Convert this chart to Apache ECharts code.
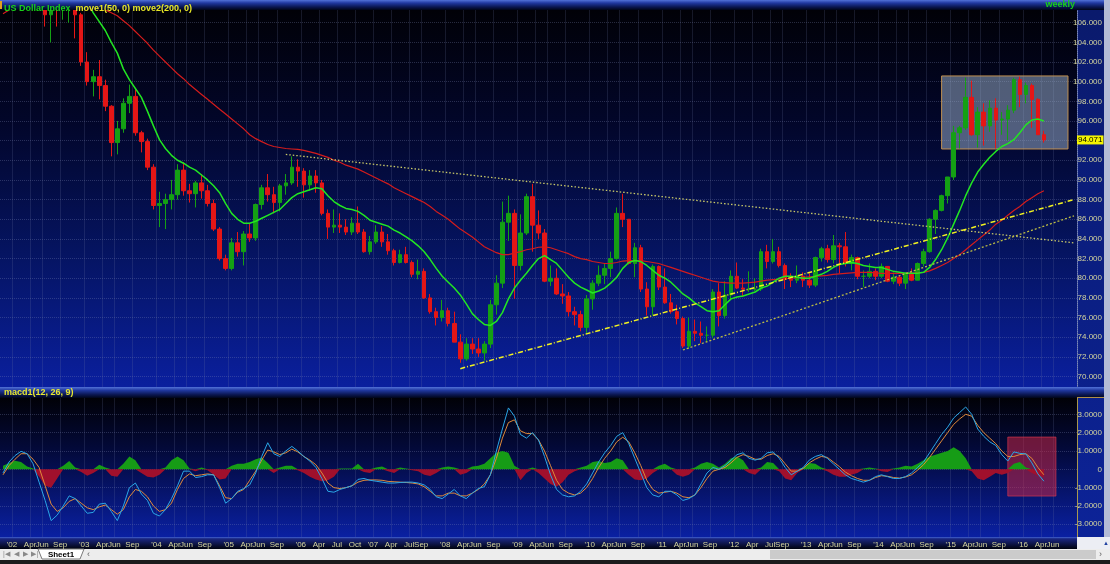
<!DOCTYPE html>
<html><head><meta charset="utf-8">
<script src="https://cdn.jsdelivr.net/npm/echarts@6/dist/echarts.min.js"></script>
<style>html,body{margin:0;padding:0;background:#000;overflow:hidden}#c{width:1110px;height:564px}</style>
</head><body><div id="c"></div>
<script>
// ---------- DATA ----------
const firstMonth = [2001, 11];
const monthCount = 179;
const months = [];
for (let k = 0; k < monthCount; k++) {
  const y = firstMonth[0] + Math.floor((firstMonth[1] - 1 + k) / 12);
  const m = (firstMonth[1] - 1 + k) % 12 + 1;
  months.push(y + '-' + String(m).padStart(2, '0'));
}
// monthly candles [open, close, low, high] from 2001-11
const candles = [
[115.5,116.3,114.3,117.2],[116.3,116.8,115.2,117.7],
[116.8,119.9,116.4,120.6],[119.9,119.5,118.6,120.9],[119.5,119.6,117.8,120.3],[119.6,116.5,115.9,119.9],[116.5,112.7,112.0,116.8],[112.7,106.8,105.6,113.1],[106.8,107.9,104.0,109.0],[107.9,107.8,105.6,109.3],[107.8,108.0,106.3,109.0],[108.0,108.3,106.0,109.5],[108.3,106.8,104.4,108.5],[106.8,102.0,101.6,107.0],
[102.0,100.0,99.6,103.0],[100.0,100.5,98.5,101.2],[100.5,99.6,98.2,102.2],[99.6,97.5,97.0,100.2],[97.5,93.8,92.4,97.6],[93.8,95.2,92.6,96.0],[95.2,97.8,94.8,98.3],[97.8,98.5,96.8,99.7],[98.5,94.8,94.5,99.2],[94.8,93.9,92.8,95.0],[93.9,91.3,91.0,94.2],[91.3,87.4,87.0,91.6],
[87.4,87.6,85.2,88.8],[87.6,88.0,85.0,88.6],[88.0,88.5,87.0,90.0],[88.5,91.0,88.0,91.6],[91.0,88.9,88.4,91.8],[88.9,88.6,87.7,89.6],[88.6,89.7,87.2,89.9],[89.7,88.9,88.1,90.6],[88.9,87.6,87.3,89.5],[87.6,85.0,84.8,88.0],[85.0,82.0,81.8,85.2],[82.0,81.0,80.8,82.4],
[81.0,83.6,80.8,84.1],[83.6,82.7,82.2,84.7],[82.7,84.5,81.3,84.8],[84.5,84.1,83.7,85.6],[84.1,87.5,83.8,87.6],[87.5,89.2,87.0,89.5],[89.2,88.5,87.8,90.6],[88.5,87.7,86.6,89.3],[87.7,89.4,86.8,89.6],[89.4,89.7,88.5,90.6],[89.7,91.3,89.5,92.4],[91.3,90.9,89.3,92.1],
[90.9,89.5,88.2,91.2],[89.5,90.4,88.9,91.0],[90.4,89.7,88.7,91.0],[89.7,86.6,86.4,90.0],[86.6,85.2,84.0,87.0],[85.2,85.4,84.6,87.0],[85.4,85.2,84.6,86.6],[85.2,84.7,84.4,86.0],[84.7,85.6,84.4,86.2],[85.6,84.7,84.5,87.3],[84.7,82.7,82.6,85.0],[82.7,83.7,82.4,84.3],
[83.7,84.7,83.5,85.4],[84.7,83.7,83.2,85.3],[83.7,82.8,82.4,84.5],[82.8,81.6,81.3,83.0],[81.6,82.4,81.5,82.9],[82.4,81.6,81.5,83.2],[81.6,80.4,80.1,81.8],[80.4,80.7,79.9,81.9],[80.7,78.0,77.9,81.0],[78.0,76.6,76.4,78.4],[76.6,76.0,75.2,77.0],[76.0,76.7,75.6,77.8],
[76.7,75.4,75.1,77.0],[75.4,73.5,73.5,76.6],[73.5,71.8,71.4,74.3],[71.8,73.3,71.6,73.9],[73.3,72.8,72.3,73.9],[72.8,72.4,72.0,73.9],[72.4,73.3,71.6,73.6],[73.3,77.3,72.9,77.8],[77.3,79.5,76.3,80.3],[79.5,85.7,79.0,87.8],[85.7,86.6,83.8,88.4],[86.6,81.3,77.9,87.0],
[81.3,84.6,80.8,86.5],[84.6,88.3,84.4,88.6],[88.3,85.4,82.7,89.6],[85.4,84.6,84.0,86.9],[84.6,79.7,79.6,85.0],[79.7,80.0,79.2,81.3],[80.0,78.4,78.3,81.0],[78.4,78.2,77.4,79.4],[78.2,76.6,76.1,78.6],[76.6,76.3,75.2,77.1],[76.3,75.0,74.6,76.7],[75.0,77.9,74.4,78.3],
[77.9,79.5,76.8,79.8],[79.5,80.3,79.2,81.3],[80.3,81.0,79.4,81.5],[81.0,82.0,80.1,82.7],[82.0,86.6,81.9,87.2],[86.6,86.0,85.2,88.6],[86.0,81.5,81.4,86.0],[81.5,83.1,80.1,83.6],[83.1,78.9,78.6,83.4],[78.9,77.1,76.2,79.6],[77.1,81.2,76.2,81.4],[81.2,79.1,78.8,81.3],
[79.1,77.5,77.4,81.0],[77.5,76.6,76.4,78.4],[76.6,75.9,75.3,77.3],[75.9,73.1,72.9,76.1],[73.1,74.6,72.8,76.0],[74.6,74.4,73.6,75.8],[74.4,74.2,73.4,75.6],[74.2,74.2,73.5,75.1],[74.2,78.6,73.9,78.9],[78.6,76.2,75.1,79.5],[76.2,78.3,75.9,79.7],[78.3,80.2,77.8,80.8],
[80.2,79.0,78.9,81.6],[79.0,78.9,78.1,79.9],[78.9,78.9,78.6,80.7],[78.9,78.9,78.7,80.0],[78.9,82.7,78.7,83.0],[82.7,81.7,81.0,83.4],[81.7,82.7,81.5,84.0],[82.7,81.3,81.1,83.2],[81.3,79.9,78.9,81.5],[79.9,79.8,79.1,80.5],[79.8,80.2,79.5,81.3],[80.2,79.8,79.1,80.6],
[79.8,79.3,79.0,80.5],[79.3,82.1,79.1,82.2],[82.1,83.0,81.7,83.2],[83.0,81.9,81.6,83.4],[81.9,83.3,81.5,84.4],[83.3,83.2,80.5,83.6],[83.2,81.5,81.2,84.7],[81.5,82.1,80.8,82.4],[82.1,80.2,79.9,82.2],[80.2,80.2,79.1,80.8],[80.2,80.7,80.0,81.5],[80.7,80.2,79.8,81.0],
[80.2,81.2,80.0,81.5],[81.2,79.7,79.6,81.2],[79.7,80.1,79.4,80.6],[80.1,79.5,79.2,80.3],[79.5,80.4,78.9,80.6],[80.4,79.8,79.7,81.0],[79.8,81.5,79.8,81.6],[81.5,82.7,81.2,83.0],[82.7,86.0,82.6,86.1],[86.0,86.9,84.5,87.0],[86.9,88.4,86.8,88.5],[88.4,90.3,87.6,90.3],
[90.3,94.8,90.0,95.5],[94.8,95.3,93.2,95.5],[95.3,98.4,95.1,100.4],[98.4,94.6,94.5,100.1],[94.6,96.9,93.3,97.4],[96.9,95.5,93.5,97.8],[95.5,97.3,94.9,98.1],[97.3,96.1,93.2,98.3],[96.1,96.2,94.6,96.9],[96.2,97.1,94.0,97.6],[97.1,100.2,96.8,100.4],[100.2,98.7,97.4,100.5],
[98.7,99.6,97.8,99.9],[99.6,98.2,95.3,99.8],[98.2,94.6,94.6,98.3],[94.6,94.071,93.8,95.0]
];
const move1 = [115.6,115.9,116.2,116.5,116.8,116.9,116.7,116.1,115.3,114.4,
113.4,112.3,111.0,109.6,108.2,107.0,106.1,105.2,104.0,102.9,
101.3,100.2,99.3,98.4,97.0,95.5,94.1,93.2,92.5,92.0,
91.7,91.3,91.0,90.5,90.0,89.4,88.7,87.6,86.6,86.0,
85.6,85.6,85.8,86.1,86.4,86.7,87.0,87.6,88.2,88.6,
88.8,89.0,89.2,89.1,88.4,87.8,87.4,87.1,87.0,86.8,
86.4,85.9,85.7,85.5,85.3,84.9,84.6,84.2,83.8,83.3,
82.7,81.9,81.0,80.2,79.6,79.0,78.3,77.4,76.4,75.8,
75.3,75.2,75.6,76.5,77.9,79.0,79.8,80.5,81.3,82.0,
82.3,81.9,81.5,80.8,80.1,79.5,79.1,78.8,78.5,78.7,
79.0,79.5,80.1,81.0,81.6,81.8,81.7,81.3,80.8,80.3,
80.0,79.6,79.0,78.4,78.0,77.5,77.1,76.7,76.6,76.7,
77.3,77.9,78.1,78.2,78.4,78.6,79.0,79.2,79.6,80.0,
80.2,80.2,80.1,80.0,80.0,80.2,80.4,80.7,81.1,81.4,
81.5,81.6,81.5,81.3,81.2,81.1,81.1,80.9,80.7,80.6,
80.5,80.5,80.5,80.6,81.1,81.9,82.9,84.1,85.5,86.9,
88.4,89.7,90.8,91.6,92.3,92.9,93.4,93.7,94.1,94.8,
95.6,96.1,96.2,96.0];
const move2 = [106.9,107.3,107.6,107.9,108.2,108.5,108.7,108.9,109.0,109.1,
109.1,109.0,108.9,108.6,108.3,108.0,107.7,107.3,107.0,106.7,
106.2,105.7,105.1,104.5,103.9,103.2,102.6,102.0,101.4,100.8,
100.3,99.7,99.2,98.7,98.2,97.7,97.2,96.7,96.2,95.7,
95.2,94.6,94.2,93.9,93.6,93.4,93.3,93.2,93.15,93.1,
93.0,92.85,92.7,92.5,92.3,92.0,91.8,91.5,91.3,91.1,
90.8,90.5,90.2,89.9,89.6,89.2,88.9,88.6,88.3,88.0,
87.7,87.3,86.8,86.4,86.0,85.5,85.0,84.6,84.2,83.7,
83.2,82.9,82.6,82.4,82.4,82.55,82.7,82.9,83.0,83.15,
83.2,83.1,82.9,82.7,82.5,82.2,82.0,81.9,81.7,81.6,
81.5,81.5,81.6,81.75,81.8,81.8,81.8,81.7,81.6,81.5,
81.3,81.1,80.9,80.7,80.5,80.3,80.1,79.9,79.7,79.6,
79.55,79.5,79.5,79.5,79.55,79.6,79.7,79.8,79.85,79.9,
79.95,80.0,80.05,80.1,80.15,80.2,80.25,80.3,80.4,80.45,
80.5,80.55,80.6,80.6,80.6,80.55,80.5,80.5,80.5,80.5,
80.5,80.5,80.55,80.6,80.75,81.0,81.3,81.6,82.0,82.4,
82.9,83.4,83.9,84.4,84.9,85.5,85.9,86.4,86.9,87.3,
87.8,88.2,88.6,88.9];
const macdLine = [-0.2,0.4,0.75,0.98,0.85,0.3,-0.7,-1.7,-2.8,-2.5,
-2.0,-1.45,-1.6,-2.0,-2.4,-2.35,-1.9,-1.85,-2.3,-2.8,
-2.0,-1.0,-0.75,-1.35,-1.7,-2.4,-2.55,-2.2,-1.6,-0.9,
-0.1,-0.1,-0.45,-0.4,-0.3,-0.3,-1.0,-1.85,-1.6,-1.2,
-1.05,-0.85,-0.2,0.7,1.45,0.85,0.7,1.0,1.25,1.0,
0.7,0.45,0.1,-0.5,-1.2,-1.25,-1.1,-1.0,-0.9,-0.55,
-0.5,-0.6,-0.65,-0.7,-0.75,-0.75,-0.72,-0.7,-0.7,-0.75,
-0.85,-1.1,-1.5,-1.6,-1.35,-1.1,-1.45,-1.6,-1.3,-1.05,
-0.95,-0.3,1.0,2.2,3.35,2.9,1.9,1.7,2.0,1.6,
0.7,-0.3,-1.1,-1.4,-1.5,-1.45,-1.2,-0.8,-0.2,0.4,
0.9,1.3,1.8,2.0,1.4,0.6,-0.2,-1.0,-1.4,-1.5,
-1.2,-1.2,-1.4,-1.7,-1.6,-1.4,-0.8,-0.2,0.1,0.0,
0.2,0.5,0.8,0.9,0.6,0.5,0.6,0.9,0.95,0.6,
0.1,-0.3,-0.1,0.1,0.5,0.7,0.8,0.6,0.3,0.0,
-0.3,-0.5,-0.6,-0.7,-0.6,-0.4,-0.3,-0.4,-0.5,-0.5,
-0.4,-0.2,0.1,0.4,0.9,1.4,1.9,2.3,2.8,3.1,
3.4,3.0,2.2,1.8,1.5,1.3,0.8,0.45,0.95,0.87,
0.84,0.35,-0.25,-0.65];
const signalLine = [-0.3,0.2,0.55,0.85,0.85,0.55,0.1,-0.9,-1.9,-2.3,
-2.1,-1.75,-1.6,-1.85,-2.1,-2.2,-2.05,-1.95,-2.2,-2.45,
-2.2,-1.5,-1.1,-1.2,-1.5,-2.0,-2.3,-2.2,-1.85,-1.1,
-0.5,-0.25,-0.35,-0.3,-0.25,-0.3,-0.9,-1.55,-1.6,-1.25,
-1.1,-0.6,-0.1,0.5,1.05,0.95,0.8,0.9,1.1,0.95,
0.7,0.5,0.25,-0.2,-0.75,-1.0,-1.05,-1.0,-0.9,-0.7,
-0.6,-0.58,-0.58,-0.6,-0.66,-0.68,-0.7,-0.72,-0.75,-0.8,
-0.95,-1.2,-1.45,-1.45,-1.3,-1.3,-1.45,-1.45,-1.3,-1.1,
-0.8,-0.3,0.6,1.7,2.55,2.7,2.1,1.95,1.95,1.6,
1.0,0.2,-0.6,-1.1,-1.3,-1.4,-1.3,-1.0,-0.5,0.1,
0.6,1.0,1.5,1.75,1.5,0.9,0.2,-0.6,-1.1,-1.3,
-1.25,-1.2,-1.3,-1.5,-1.55,-1.4,-1.0,-0.5,-0.1,0.0,
0.1,0.35,0.65,0.8,0.7,0.55,0.55,0.75,0.85,0.7,
0.3,-0.1,-0.1,0.05,0.35,0.55,0.7,0.65,0.4,0.15,
-0.15,-0.35,-0.5,-0.6,-0.6,-0.45,-0.35,-0.38,-0.45,-0.48,
-0.42,-0.3,-0.05,0.25,0.65,1.1,1.55,2.0,2.45,2.75,
3.0,2.9,2.4,2.0,1.7,1.4,1.0,0.7,0.7,0.8,
0.85,0.6,0.1,-0.3];
const histogram = [0.2,0.35,0.47,0.4,0.15,0.05,-0.4,-0.9,-1.0,-0.5,
0.2,0.45,0.1,-0.15,-0.35,-0.2,0.25,0.1,-0.35,-0.4,
0.3,0.7,0.5,-0.2,-0.4,-0.45,-0.3,0.1,0.5,0.7,
0.5,0.05,-0.1,0.1,-0.05,-0.3,-0.55,-0.5,0.2,0.3,
0.3,0.4,0.55,0.65,0.35,-0.2,0.1,0.2,0.2,-0.05,
-0.2,-0.4,-0.55,-0.65,-0.6,-0.4,0.05,0.05,0.05,0.3,
-0.15,-0.2,0.1,0.15,-0.1,-0.2,0.1,0.05,-0.05,-0.1,
-0.3,-0.36,-0.2,0.1,0.15,0.1,-0.3,-0.2,0.15,0.2,
0.3,0.6,0.9,1.0,0.9,0.2,-0.6,-0.2,0.1,-0.2,
-0.5,-0.8,-0.95,-0.7,-0.3,-0.1,0.1,0.2,0.4,0.45,
0.35,0.4,0.6,0.5,-0.3,-0.55,-0.6,-0.5,-0.2,0.2,
0.3,0.1,-0.3,-0.4,-0.3,0.1,0.3,0.4,0.3,0.1,
0.3,0.6,0.7,0.5,-0.2,-0.3,0.1,0.4,0.35,-0.1,
-0.5,-0.6,-0.2,0.1,0.35,0.3,0.1,-0.1,-0.3,-0.4,
-0.4,-0.3,-0.2,0.05,0.1,0.05,-0.1,-0.15,0.05,0.1,
0.2,0.15,0.3,0.5,0.7,0.8,0.9,1.0,1.2,1.0,
0.6,-0.1,-0.5,-0.6,-0.4,-0.2,-0.3,-0.2,0.3,0.4,
0.1,-0.2,-0.35,-0.42];
const trendLines = [
  [['2005-10', 92.6], ['2016-09', 83.6]],
  [['2008-03', 70.8], ['2016-09', 88.0]],
  [['2011-04', 72.7], ['2016-09', 86.35]]
];
const priceBox = [['2014-11', 100.58], ['2016-08', 93.15]];
const macdBox = [['2015-10', 1.76], ['2016-06', -1.46]];
const lastPrice = 94.071;
const xTickLabels = [
['2002-01',"'02"],['2002-04','Apr'],['2002-06','Jun'],['2002-09','Sep'],
['2003-01',"'03"],['2003-04','Apr'],['2003-06','Jun'],['2003-09','Sep'],
['2004-01',"'04"],['2004-04','Apr'],['2004-06','Jun'],['2004-09','Sep'],
['2005-01',"'05"],['2005-04','Apr'],['2005-06','Jun'],['2005-09','Sep'],
['2006-01',"'06"],['2006-04','Apr'],['2006-07','Jul'],['2006-10','Oct'],
['2007-01',"'07"],['2007-04','Apr'],['2007-07','Jul'],['2007-09','Sep'],
['2008-01',"'08"],['2008-04','Apr'],['2008-06','Jun'],['2008-09','Sep'],
['2009-01',"'09"],['2009-04','Apr'],['2009-06','Jun'],['2009-09','Sep'],
['2010-01',"'10"],['2010-04','Apr'],['2010-06','Jun'],['2010-09','Sep'],
['2011-01',"'11"],['2011-04','Apr'],['2011-06','Jun'],['2011-09','Sep'],
['2012-01',"'12"],['2012-04','Apr'],['2012-07','Jul'],['2012-09','Sep'],
['2013-01',"'13"],['2013-04','Apr'],['2013-06','Jun'],['2013-09','Sep'],
['2014-01',"'14"],['2014-04','Apr'],['2014-06','Jun'],['2014-09','Sep'],
['2015-01',"'15"],['2015-04','Apr'],['2015-06','Jun'],['2015-09','Sep'],
['2016-01',"'16"],['2016-04','Apr'],['2016-06','Jun']
];

// ---------- CHART ----------
const FONT = "'Liberation Sans Narrow','Liberation Sans',Arial,sans-serif";
const KHAKI = '#d6d69e';
const tickMap = new Map(xTickLabels);
const vg = (stops) => new echarts.graphic.LinearGradient(0, 0, 0, 1, stops.map(s => ({offset: s[0], color: s[1]})));
const barGrad = () => vg([[0,'#5272d8'],[0.3,'#2038a0'],[0.7,'#0a1650'],[1,'#000518']]);

const catAxis = (gi) => ({
  type: 'category', gridIndex: gi, data: months, boundaryGap: true,
  axisLine: {show: false}, axisTick: {show: false}, axisLabel: {show: false},
  splitLine: {show: true, interval: (i, v) => tickMap.has(v), lineStyle: {color: 'rgba(110,120,165,0.2)', width: 1}}
});

const trendStyles = [
  {color: '#c8c868', width: 1.3, type: [1.5, 2]},
  {color: '#f2f220', width: 1.5, type: [5, 2, 1, 2]},
  {color: '#bcbc44', width: 1.3, type: [2, 2]}
];

const chart = echarts.init(document.getElementById('c'), null, {renderer: 'canvas'});
chart.setOption({
  animation: false,
  backgroundColor: '#000',
  title: {
    text: '{a|US Dollar Index} {b|move1(50, 0) move2(200, 0)}',
    left: 4, top: 0, padding: 0, z: 60,
    textStyle: {rich: {
      a: {color: '#18d018', fontWeight: 'bold', fontSize: 9, fontFamily: FONT, lineHeight: 10},
      b: {color: '#e8e826', fontWeight: 'bold', fontSize: 9, fontFamily: FONT, lineHeight: 10}
    }}
  },
  grid: [
    {left: 0, width: 1077, top: 3, height: 393.2},
    {left: 0, width: 1077, top: 396, height: 146.6},
    {left: 0, width: 1077, top: 537, height: 2}
  ],
  xAxis: [
    catAxis(0), catAxis(1),
    {type: 'category', gridIndex: 2, data: months, boundaryGap: true, z: 60,
     axisLine: {show: false}, axisTick: {show: false}, splitLine: {show: false},
     axisLabel: {show: true, interval: 0, margin: 1.5, color: KHAKI, fontSize: 8, fontFamily: FONT,
       padding: [0, 6, 0, 0], formatter: (v) => tickMap.get(v) || ''}}
  ],
  yAxis: [
    {type: 'value', gridIndex: 0, position: 'right', min: 68, max: 108, interval: 2,
     axisLine: {show: true, lineStyle: {color: '#7c88b8', type: 'dotted'}}, axisTick: {show: false},
     axisLabel: {color: KHAKI, fontSize: 8, fontFamily: FONT, align: 'right', margin: 25,
       formatter: (v) => (v === 108 || v === 68) ? '' : v.toFixed(3)},
     splitLine: {show: true, lineStyle: {color: 'rgba(130,140,185,0.3)', type: 'dotted'}}},
    {type: 'value', gridIndex: 1, position: 'right', min: -4, max: 4, interval: 1,
     axisLine: {show: true, lineStyle: {color: '#a89850'}}, axisTick: {show: false},
     axisLabel: {color: KHAKI, fontSize: 8, fontFamily: FONT, align: 'right', margin: 25,
       formatter: (v) => Math.abs(v) === 4 ? '' : (v === 0 ? '0' : v.toFixed(4))},
     splitLine: {show: true, lineStyle: {color: 'rgba(130,140,185,0.3)', type: 'dotted'}}},
    {type: 'value', gridIndex: 2, show: false, min: 0, max: 1}
  ],
  series: [
    {type: 'candlestick', name: 'US Dollar Index', xAxisIndex: 0, yAxisIndex: 0, data: candles,
     barWidth: 4, silent: true,
     itemStyle: {color: '#14a014', color0: '#e41616', borderColor: '#14a014', borderColor0: '#e41616', borderWidth: 1},
     markArea: {silent: true,
       itemStyle: {color: 'rgba(160,182,208,0.5)', borderColor: '#c09050', borderWidth: 1},
       data: [[{coord: priceBox[0]}, {coord: priceBox[1]}]]}
    },
    {type: 'line', name: 'move2(200, 0)', xAxisIndex: 0, yAxisIndex: 0, data: move2, z: 3,
     showSymbol: false, silent: true, lineStyle: {color: '#d41c1c', width: 1.2},
     markLine: {silent: true, symbol: ['none', 'none'], label: {show: false},
       data: trendLines.map((t, i) => [{coord: t[0], lineStyle: trendStyles[i]}, {coord: t[1]}])}
    },
    {type: 'line', name: 'move1(50, 0)', xAxisIndex: 0, yAxisIndex: 0, data: move1, z: 4,
     showSymbol: false, silent: true, lineStyle: {color: '#22e622', width: 1.5},
     markLine: {silent: true, symbol: ['none', 'none'],
       lineStyle: {color: 'rgba(0,0,0,0)', width: 1, type: 'solid'},
       label: {show: true, position: 'end', distance: 0, formatter: String(lastPrice),
         color: '#000', backgroundColor: '#f4f400', fontSize: 8, fontFamily: FONT, padding: [1, 1, 0, 1]},
       data: [{yAxis: lastPrice}]}
    },
    {type: 'line', name: 'hist+', xAxisIndex: 1, yAxisIndex: 1, data: histogram.map(v => v > 0 ? v : 0),
     showSymbol: false, silent: true, lineStyle: {width: 0}, areaStyle: {color: '#169c16', opacity: 1},
     markArea: {silent: true, itemStyle: {color: 'rgba(215,40,70,0.5)', borderColor: 'rgba(230,60,80,0.6)', borderWidth: 1},
       data: [[{coord: macdBox[0]}, {coord: macdBox[1]}]]}},
    {type: 'line', name: 'hist-', xAxisIndex: 1, yAxisIndex: 1, data: histogram.map(v => v < 0 ? v : 0),
     showSymbol: false, silent: true, lineStyle: {width: 0}, areaStyle: {color: '#a0102c', opacity: 1}},
    {type: 'line', name: 'signal', xAxisIndex: 1, yAxisIndex: 1, data: signalLine, z: 3,
     showSymbol: false, silent: true, lineStyle: {color: '#e08a3a', width: 1}},
    {type: 'line', name: 'macd', xAxisIndex: 1, yAxisIndex: 1, data: macdLine, z: 4,
     showSymbol: false, silent: true, lineStyle: {color: '#2aa6e6', width: 1}}
  ],
  graphic: {elements: [
    {type: 'rect', silent: true, z: -100, shape: {x: 0, y: 0, width: 1110, height: 564}, style: {fill: '#000'}},
    {type: 'rect', silent: true, z: -90, shape: {x: 0, y: 10, width: 1077, height: 377},
     style: {fill: vg([[0,'#010107'],[0.3,'#02062a'],[0.65,'#051462'],[1,'#0a1f9e']])}},
    {type: 'rect', silent: true, z: -90, shape: {x: 0, y: 398, width: 1077, height: 139},
     style: {fill: vg([[0,'#010107'],[0.4,'#030a3e'],[1,'#0a20a2']])}},
    {type: 'rect', silent: true, z: -90, shape: {x: 1077, y: 10, width: 33, height: 527},
     style: {fill: vg([[0,'#0a1a6c'],[1,'#0c2398']])}},
    {type: 'rect', silent: true, z: 50, shape: {x: 1104, y: 0, width: 6, height: 537}, style: {fill: '#b4bcd6'}},
    {type: 'rect', silent: true, z: 50, shape: {x: 0, y: 0, width: 1104, height: 10}, style: {fill: barGrad()}},
    {type: 'rect', silent: true, z: 51, shape: {x: 0, y: 1, width: 2, height: 8}, style: {fill: '#e0a020'}},
    {type: 'rect', silent: true, z: 50, shape: {x: 0, y: 387, width: 1104, height: 11}, style: {fill: barGrad()}},
    {type: 'line', silent: true, z: 51, shape: {x1: 1077, y1: 397.5, x2: 1104, y2: 397.5}, style: {stroke: '#b09048', lineWidth: 1}},
    {type: 'rect', silent: true, z: 50, shape: {x: 0, y: 537, width: 1077, height: 12},
     style: {fill: vg([[0,'#4262d2'],[0.15,'#1a2680'],[1,'#00030e']])}},
    {type: 'rect', silent: true, z: 50, shape: {x: 1077, y: 537, width: 33, height: 12}, style: {fill: '#eceef4'}},
    {type: 'text', silent: true, z: 51, style: {x: 1106, y: 543, text: '▲', fill: '#2040a0', font: '6px sans-serif', align: 'center', verticalAlign: 'middle'}},
    {type: 'rect', silent: true, z: 50, shape: {x: 0, y: 549, width: 1110, height: 11}, style: {fill: '#ededed'}},
    {type: 'rect', silent: true, z: 51, shape: {x: 770, y: 550, width: 326, height: 9}, style: {fill: '#cbcbcb'}},
    {type: 'text', silent: true, z: 51, style: {x: 3, y: 554.5, text: '|◀  ◀  ▶  ▶|', fill: '#8a8a8a', font: '7px sans-serif', verticalAlign: 'middle'}},
    {type: 'polygon', silent: true, z: 51, shape: {points: [[38,549],[84,549],[80,559],[42,559]]}, style: {fill: '#ffffff', stroke: '#7a7a7a', lineWidth: 1}},
    {type: 'text', silent: true, z: 52, style: {x: 61, y: 554.5, text: 'Sheet1', fill: '#000', font: "bold 8px " + FONT, align: 'center', verticalAlign: 'middle'}},
    {type: 'text', silent: true, z: 51, style: {x: 87, y: 554.5, text: '‹', fill: '#606060', font: '9px sans-serif', verticalAlign: 'middle'}},
    {type: 'text', silent: true, z: 51, style: {x: 1099, y: 554.5, text: '›', fill: '#606060', font: '9px sans-serif', verticalAlign: 'middle'}},
    {type: 'rect', silent: true, z: 50, shape: {x: 0, y: 560, width: 1110, height: 4}, style: {fill: '#1c1c1c'}},
    {type: 'text', silent: true, z: 60, style: {x: 4, y: 392.5, text: 'macd1(12, 26, 9)', fill: '#e8e830', font: "bold 9px " + FONT, verticalAlign: 'middle'}},
    {type: 'text', silent: true, z: 60, style: {x: 1075, y: 5, text: 'weekly', fill: '#18d018', font: "bold 9px " + FONT, align: 'right', verticalAlign: 'middle'}}
  ]}
});
</script>
</body></html>
